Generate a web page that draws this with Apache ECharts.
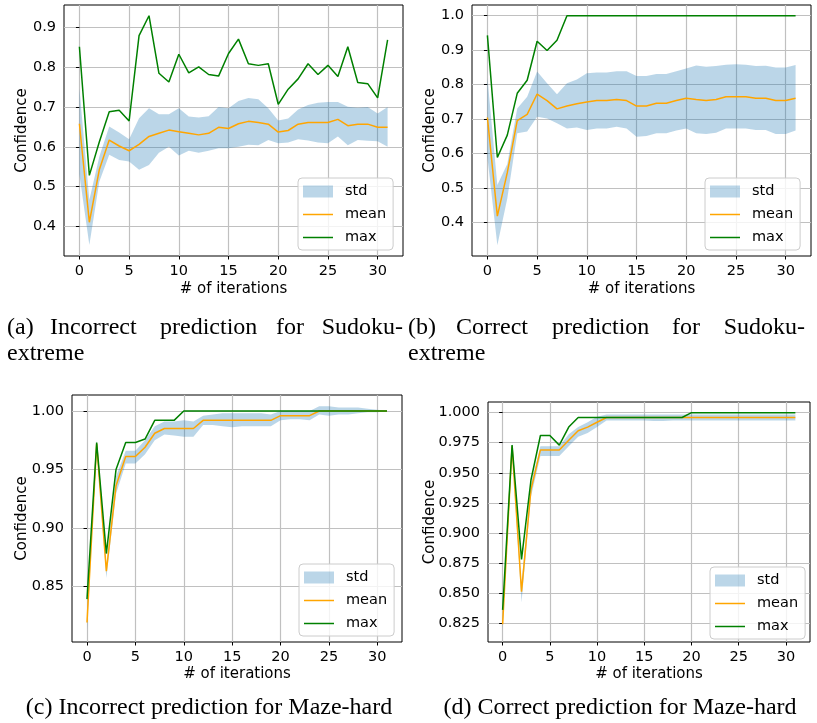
<!DOCTYPE html>
<html>
<head>
<meta charset="utf-8">
<script src="https://cdn.jsdelivr.net/npm/echarts@6/dist/echarts.min.js"></script>
<style>
    html, body { margin: 0; padding: 0; background: #fff; }
    #chart { width: 817px; height: 723px; }
</style>
</head>
<body>
<div id="chart"></div>
<script>
// iteraciones (eje x)
const iterations = [0, 1, 2, 3, 4, 5, 6, 7, 8, 9, 10, 11, 12, 13, 14, 15, 16, 17, 18, 19, 20, 21, 22, 23, 24, 25, 26, 27, 28, 29, 30, 31];
const xTicks = [0, 5, 10, 15, 20, 25, 30];

// (a) Incorrect prediction for Sudoku-extreme
const maxA = [0.852, 0.528, 0.612, 0.688, 0.692, 0.665, 0.880, 0.930, 0.785, 0.763, 0.833, 0.786, 0.801, 0.782, 0.778, 0.835, 0.871, 0.809, 0.805, 0.809, 0.707, 0.745, 0.771, 0.809, 0.782, 0.805, 0.777, 0.852, 0.762, 0.759, 0.723, 0.869];
const meanA = [0.658, 0.410, 0.542, 0.617, 0.602, 0.590, 0.606, 0.626, 0.634, 0.642, 0.638, 0.634, 0.630, 0.634, 0.649, 0.646, 0.658, 0.664, 0.661, 0.657, 0.637, 0.641, 0.657, 0.661, 0.661, 0.661, 0.669, 0.653, 0.657, 0.657, 0.649, 0.649];
const upperA = [0.747, 0.466, 0.575, 0.651, 0.636, 0.619, 0.672, 0.697, 0.682, 0.682, 0.697, 0.676, 0.674, 0.677, 0.700, 0.697, 0.715, 0.723, 0.720, 0.697, 0.666, 0.671, 0.694, 0.705, 0.711, 0.713, 0.713, 0.701, 0.698, 0.700, 0.684, 0.700];
const lowerA = [0.530, 0.353, 0.512, 0.580, 0.567, 0.563, 0.542, 0.554, 0.585, 0.600, 0.578, 0.590, 0.585, 0.590, 0.596, 0.596, 0.600, 0.605, 0.604, 0.617, 0.609, 0.611, 0.619, 0.616, 0.611, 0.609, 0.626, 0.604, 0.617, 0.615, 0.614, 0.600];
const yTicksA = [0.4, 0.5, 0.6, 0.7, 0.8, 0.9];

// (b) Correct prediction for Sudoku-extreme
const maxB = [0.943, 0.589, 0.654, 0.775, 0.813, 0.926, 0.899, 0.929, 1, 1, 1, 1, 1, 1, 1, 1, 1, 1, 1, 1, 1, 1, 1, 1, 1, 1, 1, 1, 1, 1, 1, 1];
const meanB = [0.705, 0.419, 0.545, 0.696, 0.714, 0.773, 0.754, 0.730, 0.738, 0.745, 0.750, 0.754, 0.754, 0.757, 0.754, 0.738, 0.738, 0.746, 0.746, 0.754, 0.761, 0.757, 0.754, 0.757, 0.765, 0.765, 0.765, 0.761, 0.761, 0.754, 0.754, 0.761];
const upperB = [0.820, 0.509, 0.570, 0.731, 0.765, 0.838, 0.804, 0.772, 0.804, 0.815, 0.833, 0.835, 0.835, 0.839, 0.839, 0.825, 0.825, 0.831, 0.831, 0.839, 0.847, 0.856, 0.852, 0.854, 0.858, 0.859, 0.858, 0.854, 0.855, 0.850, 0.850, 0.857];
const lowerB = [0.590, 0.335, 0.470, 0.659, 0.664, 0.707, 0.702, 0.688, 0.673, 0.676, 0.669, 0.673, 0.673, 0.678, 0.673, 0.649, 0.651, 0.659, 0.659, 0.667, 0.673, 0.659, 0.657, 0.661, 0.673, 0.673, 0.673, 0.669, 0.669, 0.657, 0.657, 0.667];
const yTicksB = [0.4, 0.5, 0.6, 0.7, 0.8, 0.9, 1.0];

// (c) Incorrect prediction for Maze-hard
const maxC = [0.839, 0.973, 0.878, 0.950, 0.973, 0.973, 0.976, 0.992, 0.992, 0.992, 1, 1, 1, 1, 1, 1, 1, 1, 1, 1, 1, 1, 1, 1, 1, 1, 1, 1, 1, 1, 1, 1];
const meanC = [0.819, 0.972, 0.863, 0.936, 0.961, 0.961, 0.969, 0.981, 0.985, 0.985, 0.985, 0.985, 0.992, 0.992, 0.992, 0.992, 0.992, 0.992, 0.992, 0.992, 0.996, 0.996, 0.996, 0.996, 1, 1, 1, 1, 1, 1, 1, 1];
const upperC = [0.825, 0.975, 0.868, 0.944, 0.966, 0.966, 0.975, 0.987, 0.991, 0.991, 0.992, 0.991, 0.996, 0.997, 0.998, 0.998, 0.998, 0.998, 0.998, 0.997, 1.000, 1.000, 1.000, 1.000, 1.004, 1.004, 1.003, 1.003, 1.003, 1.002, 1.001, 1.000];
const lowerC = [0.813, 0.968, 0.857, 0.929, 0.955, 0.955, 0.963, 0.975, 0.980, 0.979, 0.978, 0.978, 0.988, 0.988, 0.987, 0.986, 0.987, 0.987, 0.987, 0.987, 0.992, 0.993, 0.993, 0.992, 0.997, 0.996, 0.997, 0.997, 0.998, 0.999, 0.999, 1.000];
const yTicksC = [0.85, 0.90, 0.95, 1.00];

// (d) Correct prediction for Maze-hard
const maxD = [0.836, 0.973, 0.878, 0.944, 0.981, 0.981, 0.973, 0.988, 0.996, 0.996, 0.996, 0.996, 0.996, 0.996, 0.996, 0.996, 0.996, 0.996, 0.996, 0.996, 1, 1, 1, 1, 1, 1, 1, 1, 1, 1, 1, 1];
const meanD = [0.824, 0.972, 0.851, 0.936, 0.969, 0.969, 0.969, 0.977, 0.985, 0.988, 0.992, 0.996, 0.996, 0.996, 0.996, 0.996, 0.996, 0.996, 0.996, 0.996, 0.996, 0.996, 0.996, 0.996, 0.996, 0.996, 0.996, 0.996, 0.996, 0.996, 0.996, 0.996];
const upperD = [0.828, 0.975, 0.858, 0.941, 0.972, 0.972, 0.972, 0.982, 0.988, 0.992, 0.9965, 0.9985, 0.9985, 0.9985, 0.9985, 0.9985, 0.9985, 0.9985, 0.9985, 0.9985, 0.9985, 0.9985, 0.9985, 0.9985, 0.9985, 0.9985, 0.9985, 0.9985, 0.9985, 0.9985, 0.9985, 0.9985];
const lowerD = [0.820, 0.969, 0.842, 0.930, 0.964, 0.964, 0.964, 0.972, 0.980, 0.983, 0.988, 0.9935, 0.9935, 0.9935, 0.9935, 0.9935, 0.993, 0.993, 0.9935, 0.9935, 0.9935, 0.9935, 0.9935, 0.9935, 0.9935, 0.9935, 0.9935, 0.9935, 0.9935, 0.9935, 0.9935, 0.9935];
const yTicksD = [0.825, 0.850, 0.875, 0.900, 0.925, 0.950, 0.975, 1.000];

const fuente = 'DejaVu Sans';
const fuenteCaption = '"Liberation Serif", "Times New Roman", serif';

//paneles: grilla, rango y, decimales, separacion de los titulos, leyenda
const paneles = [
    { grid: { left: 64, top: 5, width: 339, height: 251 }, ymin: 0.325, ymax: 0.957, ticks: yTicksA, dec: 1, gapY: 34, gapX: 26, leg: { left: 298, top: 178 }, d: [lowerA, upperA, meanA, maxA] },
    { grid: { left: 472, top: 5, width: 339, height: 251 }, ymin: 0.3035, ymax: 1.031, ticks: yTicksB, dec: 1, gapY: 34, gapX: 26, leg: { left: 705, top: 178 }, d: [lowerB, upperB, meanB, maxB] },
    { grid: { left: 72, top: 395, width: 330, height: 247 }, ymin: 0.8023, ymax: 1.0137, ticks: yTicksC, dec: 2, gapY: 42, gapX: 25, leg: { left: 299, top: 564 }, d: [lowerC, upperC, meanC, maxC] },
    { grid: { left: 488, top: 402, width: 322, height: 240 }, ymin: 0.80925, ymax: 1.00886, ticks: yTicksD, dec: 3, gapY: 50, gapX: 25, leg: { left: 710, top: 567 }, d: [lowerD, upperD, meanD, maxD] }
];

function pares(arr) {
    return arr.map((v, i) => [iterations[i], v]);
}

let grids = [], xAxes = [], yAxes = [], series = [], legends = [];

paneles.map((p, i) => {
    grids.push(Object.assign({ show: true, borderColor: '#000', borderWidth: 1, containLabel: false, outerBoundsMode: 'none' }, p.grid));

    xAxes.push({
        type: 'value', gridIndex: i, min: -1.55, max: 32.55,
        axisLine: { show: false },
        axisTick: { show: true, length: 3.5, customValues: xTicks, lineStyle: { color: '#000', width: 1 } },
        axisLabel: { customValues: xTicks, color: '#000', fontFamily: fuente, fontSize: 14.5, margin: 8 },
        splitLine: { show: true, lineStyle: { color: '#c0c0c0', width: 1.2 } },
        name: '# of iterations', nameLocation: 'middle', nameGap: p.gapX, nameMoveOverlap: false,
        nameTextStyle: { color: '#000', fontFamily: fuente, fontSize: 15 }
    });

    yAxes.push({
        type: 'value', gridIndex: i, min: p.ymin, max: p.ymax,
        axisLine: { show: false },
        axisTick: { show: true, length: 3.5, customValues: p.ticks, lineStyle: { color: '#000', width: 1 } },
        axisLabel: { customValues: p.ticks, color: '#000', fontFamily: fuente, fontSize: 14.5, margin: 8, formatter: v => v.toFixed(p.dec) },
        splitLine: { show: true, lineStyle: { color: '#c0c0c0', width: 1.2 } },
        name: 'Confidence', nameLocation: 'middle', nameGap: p.gapY, nameMoveOverlap: false,
        nameTextStyle: { color: '#000', fontFamily: fuente, fontSize: 15 }
    });

    let [lower, upper, mean, max] = p.d;

    //banda std: un solo poligono entre lower y upper, con las coordenadas del propio eje
    series.push({
        type: 'custom', name: 'std', xAxisIndex: i, yAxisIndex: i, silent: true, z: 1,
        data: lower.map((lo, k) => [iterations[k], lo, upper[k]]),
        encode: { x: 0, y: [1, 2] },
        itemStyle: { color: 'rgba(31,119,180,0.3)' },
        renderItem: (params, api) => {
            if (params.dataIndex !== 0) return;
            let arriba = upper.map((u, k) => api.coord([iterations[k], u]));
            let abajo = lower.map((l, k) => api.coord([iterations[k], l])).reverse();
            return {
                type: 'polygon',
                shape: { points: arriba.concat(abajo) },
                style: { fill: 'rgba(31,119,180,0.3)', stroke: null }
            };
        }
    });
    series.push({
        type: 'line', name: 'mean', xAxisIndex: i, yAxisIndex: i,
        data: pares(mean), symbol: 'none', lineStyle: { color: '#ffa500', width: 1.5 }, itemStyle: { color: '#ffa500' }, z: 2
    });
    series.push({
        type: 'line', name: 'max', xAxisIndex: i, yAxisIndex: i,
        data: pares(max), symbol: 'none', lineStyle: { color: '#008000', width: 1.5 }, itemStyle: { color: '#008000' }, z: 3
    });

    legends.push({
        orient: 'vertical', left: p.leg.left, top: p.leg.top,
        padding: [6, 7, 5, 5], itemGap: 8, itemWidth: 30, itemHeight: 12,
        backgroundColor: 'rgba(255,255,255,0.8)', borderColor: '#cccccc', borderWidth: 1, borderRadius: 4,
        selectedMode: false,
        textStyle: { color: '#000', fontFamily: fuente, fontSize: 14.5, lineHeight: 14, padding: [0, 0, 0, 7] },
        data: [
            { name: 'std', icon: 'rect', itemStyle: { color: 'rgba(31,119,180,0.3)', borderWidth: 0 } },
            { name: 'mean', icon: 'path://M0,0H30V1.5H0Z', itemStyle: { color: '#ffa500', borderWidth: 0 } },
            { name: 'max', icon: 'path://M0,0H30V1.5H0Z', itemStyle: { color: '#008000', borderWidth: 0 } }
        ]
    });
});

//textos de los captions
function palabra(text, x, y, align) {
    return { type: 'text', x: x, y: y, silent: true, style: { text: text, font: '24px ' + fuenteCaption, fill: '#000', align: align || 'left', verticalAlign: 'middle' } };
}

const captions = [
    palabra('(a)', 7, 328), palabra('Incorrect', 50, 328), palabra('prediction', 160, 328), palabra('for', 276, 328), palabra('Sudoku-', 403, 328, 'right'),
    palabra('extreme', 7, 354),
    palabra('(b)', 408, 328), palabra('Correct', 456, 328), palabra('prediction', 552, 328), palabra('for', 672, 328), palabra('Sudoku-', 805, 328, 'right'),
    palabra('extreme', 408, 354),
    palabra('(c) Incorrect prediction for Maze-hard', 209, 708, 'center'),
    palabra('(d) Correct prediction for Maze-hard', 620, 708, 'center')
];

let grafica = echarts.init(document.querySelector('#chart'), null, { renderer: 'canvas' });

grafica.setOption({
    animation: false,
    backgroundColor: '#fff',
    grid: grids,
    xAxis: xAxes,
    yAxis: yAxes,
    legend: legends,
    series: series,
    graphic: { elements: captions }
});
</script>
</body>
</html>
